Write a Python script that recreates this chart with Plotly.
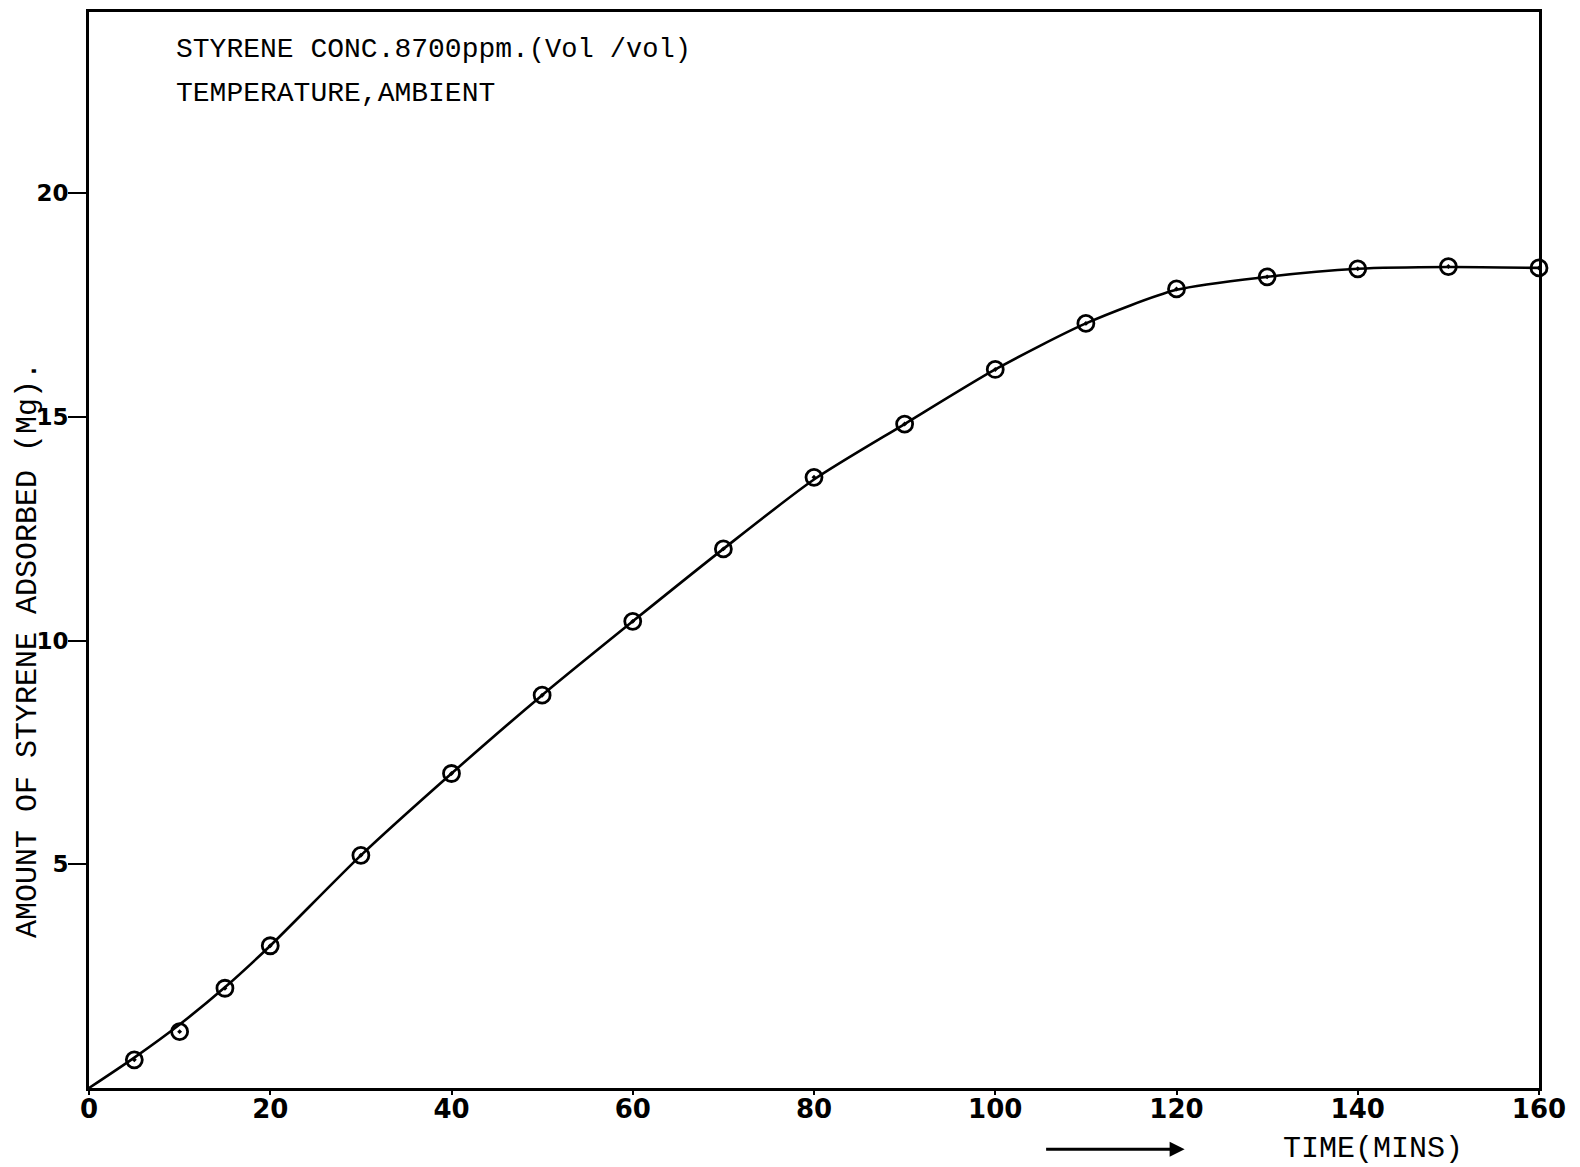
import plotly.graph_objects as go

# Data
time_mins = [5, 10, 15, 20, 30, 40, 50, 60, 70, 80, 90, 100, 110, 120, 130, 140, 150, 160]
amount_mg = [0.63, 1.26, 2.23, 3.18, 5.2, 7.03, 8.78, 10.43, 12.05, 13.65, 14.84, 16.06,
             17.09, 17.86, 18.13, 18.31, 18.36, 18.33]

# Hand-drawn smooth curve through the points
curve_time = [0, 5, 10, 15, 20, 30, 40, 50, 60, 70, 80, 90, 100, 110, 120, 130, 140, 150, 160]
curve_amount = [0, 0.68, 1.42, 2.25, 3.18, 5.2, 7.03, 8.78, 10.43, 12.05, 13.6, 14.84, 16.06,
                17.09, 17.84, 18.13, 18.31, 18.35, 18.33]

x_ticks = [0, 20, 40, 60, 80, 100, 120, 140, 160]
y_ticks = [5, 10, 15, 20]

mono = "Liberation Mono"

fig = go.Figure()
fig.add_trace(go.Scatter(
    x=curve_time, y=curve_amount, mode="lines",
    line=dict(color="black", width=2.6, shape="spline", smoothing=0.7),
    hoverinfo="skip", showlegend=False, cliponaxis=False,
))
fig.add_trace(go.Scatter(
    x=time_mins, y=amount_mg, mode="markers",
    marker=dict(symbol="circle-open-dot", size=16, color="black",
                line=dict(color="black", width=2.8)),
    showlegend=False, cliponaxis=False,
))

fig.update_layout(
    width=1580, height=1167,
    margin=dict(l=89, r=41, t=12, b=79),
    paper_bgcolor="white", plot_bgcolor="white",
    xaxis=dict(
        range=[0, 160], tickvals=x_ticks, ticktext=[str(v) for v in x_ticks],
        showgrid=False, zeroline=False, automargin=False,
        showline=True, linecolor="black", linewidth=3, mirror=True,
        ticks="outside", ticklen=4, tickwidth=2, tickcolor="black",
        ticklabelstandoff=-8,
        tickfont=dict(family="DejaVu Sans", size=26, color="black", weight="bold"),
    ),
    yaxis=dict(
        range=[0, 24.05], tickvals=y_ticks, ticktext=[str(v) for v in y_ticks],
        showgrid=False, zeroline=False, automargin=False,
        showline=True, linecolor="black", linewidth=3, mirror=True,
        ticks="outside", ticklen=18, tickwidth=2, tickcolor="black",
        ticklabelstandoff=-5,
        tickfont=dict(family="DejaVu Sans", size=23, color="black", weight="bold"),
    ),
)

fig.add_annotation(
    text="STYRENE CONC.8700ppm.<span style='font-size:27px'>(Vol /vol)</span>",
    xref="paper", yref="paper",
    x=0.0586, y=0.9647, xanchor="left", yanchor="middle", showarrow=False,
    font=dict(family=mono, size=28, color="black"),
)
fig.add_annotation(
    text="TEMPERATURE,AMBIENT", xref="paper", yref="paper",
    x=0.0586, y=0.924, xanchor="left", yanchor="middle", showarrow=False,
    font=dict(family=mono, size=28, color="black"),
)
fig.add_annotation(
    text="AMOUNT OF STYRENE ADSORBED (Mg).", xref="paper", yref="paper",
    x=-0.0421, y=0.407, xanchor="center", yanchor="middle", showarrow=False,
    textangle=-90,
    font=dict(family=mono, size=30, color="black"),
)
fig.add_annotation(
    text="TIME(MINS)", xref="paper", yref="paper",
    x=0.822, y=-0.057, xanchor="left", yanchor="middle", showarrow=False,
    font=dict(family=mono, size=30, color="black"),
)
fig.add_annotation(
    text="", xref="paper", yref="paper", x=0.7556, y=-0.057,
    ax=-140, ay=0, axref="pixel", ayref="pixel",
    showarrow=True, arrowhead=2, arrowsize=1, arrowwidth=3, arrowcolor="black",
)

fig.write_html("out.html")
